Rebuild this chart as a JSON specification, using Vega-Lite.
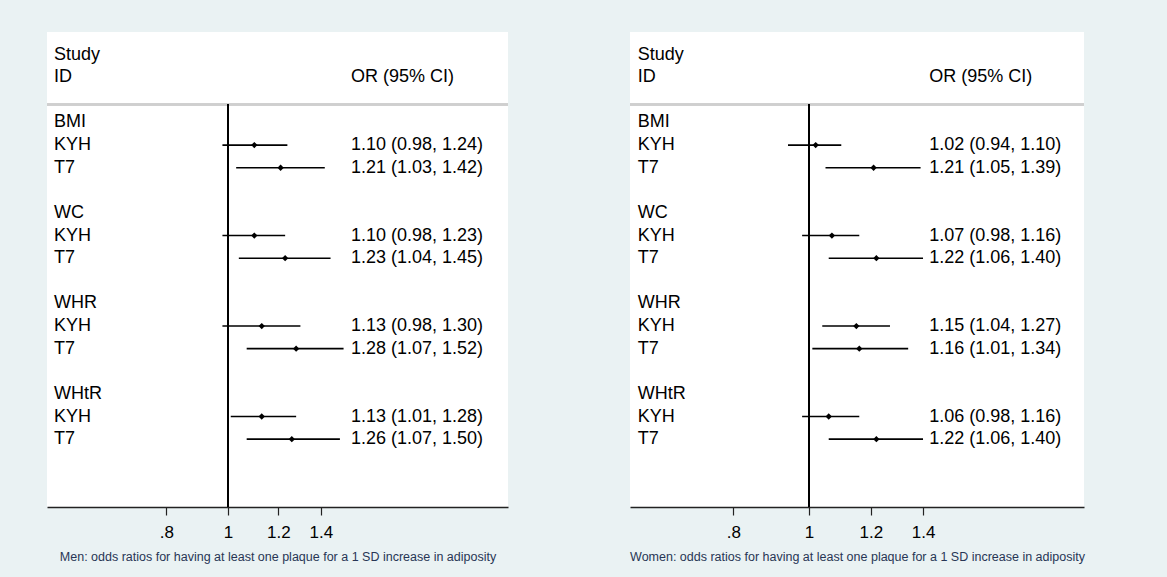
{
  "$schema": "https://vega.github.io/schema/vega-lite/v6.json",
  "background": "#eaf2f3",
  "padding": {"left": 46, "top": 32, "right": 84, "bottom": 14},
  "spacing": 122,
  "bounds": "flush",
  "config": {
    "view": {"fill": "white", "stroke": null},
    "font": "Liberation Sans",
    "text": {"font": "Liberation Sans", "fontSize": 18, "color": "black", "align": "left", "baseline": "middle"},
    "axisX": {
      "grid": false, "domainColor": "#222222", "domainWidth": 1.5, "tickColor": "#222222", "tickWidth": 1.2,
      "tickSize": 8, "labelFont": "Liberation Sans", "labelFontSize": 17, "labelColor": "black", "labelPadding": 9,
      "titleFont": "Liberation Sans", "titleFontSize": 12.5, "titleFontWeight": "normal", "titleColor": "#283655", "titlePadding": 10
    }
  },
  "datasets": {
    "men": [
      {"row": -3, "label": "Study"},
      {"row": -2, "label": "ID", "ci": "OR (95% CI)"},
      {"row": 0, "label": "BMI"},
      {"row": 1, "label": "KYH", "or": 1.10, "lo": 0.98, "hi": 1.24, "ci": "1.10 (0.98, 1.24)"},
      {"row": 2, "label": "T7", "or": 1.21, "lo": 1.03, "hi": 1.42, "ci": "1.21 (1.03, 1.42)"},
      {"row": 4, "label": "WC"},
      {"row": 5, "label": "KYH", "or": 1.10, "lo": 0.98, "hi": 1.23, "ci": "1.10 (0.98, 1.23)"},
      {"row": 6, "label": "T7", "or": 1.23, "lo": 1.04, "hi": 1.45, "ci": "1.23 (1.04, 1.45)"},
      {"row": 8, "label": "WHR"},
      {"row": 9, "label": "KYH", "or": 1.13, "lo": 0.98, "hi": 1.30, "ci": "1.13 (0.98, 1.30)"},
      {"row": 10, "label": "T7", "or": 1.28, "lo": 1.07, "hi": 1.52, "ci": "1.28 (1.07, 1.52)"},
      {"row": 12, "label": "WHtR"},
      {"row": 13, "label": "KYH", "or": 1.13, "lo": 1.01, "hi": 1.28, "ci": "1.13 (1.01, 1.28)"},
      {"row": 14, "label": "T7", "or": 1.26, "lo": 1.07, "hi": 1.50, "ci": "1.26 (1.07, 1.50)"}
    ],
    "women": [
      {"row": -3, "label": "Study"},
      {"row": -2, "label": "ID", "ci": "OR (95% CI)"},
      {"row": 0, "label": "BMI"},
      {"row": 1, "label": "KYH", "or": 1.02, "lo": 0.94, "hi": 1.10, "ci": "1.02 (0.94, 1.10)"},
      {"row": 2, "label": "T7", "or": 1.21, "lo": 1.05, "hi": 1.39, "ci": "1.21 (1.05, 1.39)"},
      {"row": 4, "label": "WC"},
      {"row": 5, "label": "KYH", "or": 1.07, "lo": 0.98, "hi": 1.16, "ci": "1.07 (0.98, 1.16)"},
      {"row": 6, "label": "T7", "or": 1.22, "lo": 1.06, "hi": 1.40, "ci": "1.22 (1.06, 1.40)"},
      {"row": 8, "label": "WHR"},
      {"row": 9, "label": "KYH", "or": 1.15, "lo": 1.04, "hi": 1.27, "ci": "1.15 (1.04, 1.27)"},
      {"row": 10, "label": "T7", "or": 1.16, "lo": 1.01, "hi": 1.34, "ci": "1.16 (1.01, 1.34)"},
      {"row": 12, "label": "WHtR"},
      {"row": 13, "label": "KYH", "or": 1.06, "lo": 0.98, "hi": 1.16, "ci": "1.06 (0.98, 1.16)"},
      {"row": 14, "label": "T7", "or": 1.22, "lo": 1.06, "hi": 1.40, "ci": "1.22 (1.06, 1.40)"}
    ]
  },
  "hconcat": [
    {
      "width": 461,
      "height": 475,
      "data": {"name": "men"},
      "layer": [
        {
          "mark": {"type": "rule", "color": "#cfcfcf", "strokeWidth": 1.5},
          "encoding": {"y": {"datum": -0.8, "type": "quantitative", "scale": {"domain": [-4, 17], "reverse": true, "nice": false, "zero": false}, "axis": null}}
        },
        {
          "transform": [{"filter": "isValid(datum.lo)"}],
          "mark": {"type": "rule", "color": "black", "strokeWidth": 1.6},
          "encoding": {
            "x": {"field": "lo", "type": "quantitative", "scale": {"type": "log", "domain": [0.519, 2.758], "nice": false, "zero": false},
                  "axis": {"values": [0.8, 1, 1.2, 1.4], "labelExpr": "datum.value == 0.8 ? '.8' : toString(datum.value)", "title": "Men: odds ratios for having at least one plaque for a 1 SD increase in adiposity"}},
            "x2": {"field": "hi"},
            "y": {"field": "row", "type": "quantitative", "scale": {"domain": [-4, 17], "reverse": true, "nice": false, "zero": false}, "axis": null}
          }
        },
        {
          "mark": {"type": "rule", "color": "black", "strokeWidth": 1.3},
          "encoding": {
            "x": {"datum": 1, "type": "quantitative"},
            "y": {"datum": -0.8, "type": "quantitative"},
            "y2": {"datum": 17}
          }
        },
        {
          "transform": [{"filter": "isValid(datum.or)"}],
          "mark": {"type": "point", "shape": "diamond", "filled": true, "color": "black", "size": 40, "opacity": 1},
          "encoding": {
            "x": {"field": "or", "type": "quantitative"},
            "y": {"field": "row", "type": "quantitative"}
          }
        },
        {
          "mark": {"type": "text"},
          "encoding": {
            "x": {"datum": 0.5324, "type": "quantitative"},
            "y": {"field": "row", "type": "quantitative"},
            "text": {"field": "label"}
          }
        },
        {
          "transform": [{"filter": "isValid(datum.ci)"}],
          "mark": {"type": "text"},
          "encoding": {
            "x": {"datum": 1.5616, "type": "quantitative"},
            "y": {"field": "row", "type": "quantitative"},
            "text": {"field": "ci"}
          }
        }
      ]
    },
    {
      "width": 454,
      "height": 475,
      "data": {"name": "women"},
      "layer": [
        {
          "mark": {"type": "rule", "color": "#cfcfcf", "strokeWidth": 1.5},
          "encoding": {"y": {"datum": -0.8, "type": "quantitative", "scale": {"domain": [-4, 17], "reverse": true, "nice": false, "zero": false}, "axis": null}}
        },
        {
          "transform": [{"filter": "isValid(datum.lo)"}],
          "mark": {"type": "rule", "color": "black", "strokeWidth": 1.6},
          "encoding": {
            "x": {"field": "lo", "type": "quantitative", "scale": {"type": "log", "domain": [0.5898, 2.251], "nice": false, "zero": false},
                  "axis": {"values": [0.8, 1, 1.2, 1.4], "labelExpr": "datum.value == 0.8 ? '.8' : toString(datum.value)", "title": "Women: odds ratios for having at least one plaque for a 1 SD increase in adiposity"}},
            "x2": {"field": "hi"},
            "y": {"field": "row", "type": "quantitative", "scale": {"domain": [-4, 17], "reverse": true, "nice": false, "zero": false}, "axis": null}
          }
        },
        {
          "mark": {"type": "rule", "color": "black", "strokeWidth": 1.3},
          "encoding": {
            "x": {"datum": 1, "type": "quantitative"},
            "y": {"datum": -0.8, "type": "quantitative"},
            "y2": {"datum": 17}
          }
        },
        {
          "transform": [{"filter": "isValid(datum.or)"}],
          "mark": {"type": "point", "shape": "diamond", "filled": true, "color": "black", "size": 40, "opacity": 1},
          "encoding": {
            "x": {"field": "or", "type": "quantitative"},
            "y": {"field": "row", "type": "quantitative"}
          }
        },
        {
          "mark": {"type": "text"},
          "encoding": {
            "x": {"datum": 0.6033, "type": "quantitative"},
            "y": {"field": "row", "type": "quantitative"},
            "text": {"field": "label"}
          }
        },
        {
          "transform": [{"filter": "isValid(datum.ci)"}],
          "mark": {"type": "text"},
          "encoding": {
            "x": {"datum": 1.426, "type": "quantitative"},
            "y": {"field": "row", "type": "quantitative"},
            "text": {"field": "ci"}
          }
        }
      ]
    }
  ]
}
